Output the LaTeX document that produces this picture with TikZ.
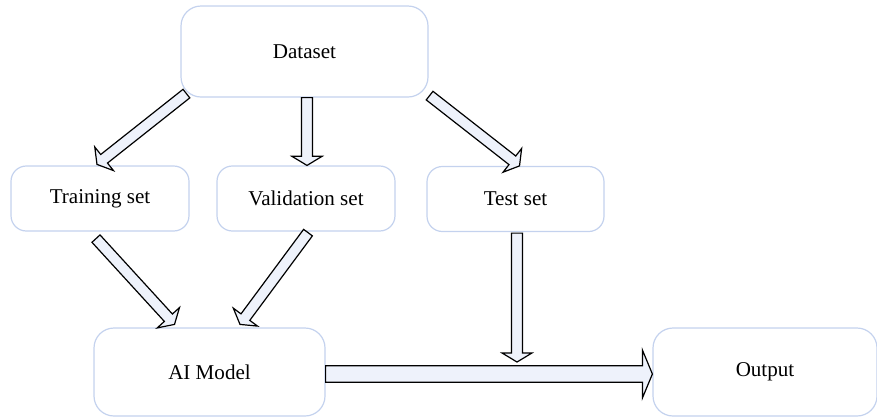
\documentclass[tikz,border=0pt]{standalone}
\usepackage{fontspec}
\setmainfont{Liberation Serif}
\usetikzlibrary{calc}

\definecolor{boxline}{RGB}{196,210,238}
\definecolor{arrowfill}{RGB}{238,242,251}

\tikzset{every picture/.style={line width=0.75pt}}
\tikzset{
  stagebox/.style={draw=boxline, fill=white, line width=0.9, inner sep=0pt, align=center,
    font=\fontsize{15.8}{18}\selectfont},
  arrowbody/.style={draw=black, fill=arrowfill, line width=0.9, line join=miter}
}

% block arrow: tail, tip, half shaft, half head, head length
\newcommand{\fatarrow}[5]{%
  \coordinate (hb) at ($(#2)!#5!(#1)$);
  \draw [arrowbody] ($(#1)!#3!90:(#2)$) -- ($(hb)!#3!90:(#2)$) -- ($(hb)!#4!90:(#2)$) -- (#2)
    -- ($(hb)!#4!-90:(#2)$) -- ($(hb)!#3!-90:(#2)$) -- ($(#1)!#3!-90:(#2)$) -- cycle ;
}

\begin{document}
\begin{tikzpicture}[x=0.75pt,y=0.75pt,yscale=-1,xscale=1]
\useasboundingbox (0,0) rectangle (877,419);

%Rounded Rect [data]
\node [stagebox, minimum width=185.25pt, minimum height=68.25pt, rounded corners=15pt] (data) at (304.5,51.5) {Dataset};
%Rounded Rect [train]
\node [stagebox, minimum width=133.5pt, minimum height=48.75pt, rounded corners=11.5pt] (train) at (100,198.5) {Training set};
%Rounded Rect [valid]
\node [stagebox, minimum width=133.5pt, minimum height=48.75pt, rounded corners=11.5pt] (valid) at (306,198.5) {Validation set};
%Rounded Rect [test]
\node [stagebox, minimum width=132.75pt, minimum height=48.75pt, rounded corners=11.5pt] (test) at (515.5,199) {Test set};
%Rounded Rect [ai]
\node [stagebox, minimum width=173.25pt, minimum height=66pt, rounded corners=15pt] (ai) at (209.5,372) {AI Model};
%Rounded Rect [out]
\node [stagebox, minimum width=168pt, minimum height=66pt, rounded corners=15pt] (out) at (765,372) {Output};

%Arrow end points
\coordinate (d1) at ($(data.south west)+(6,-4)$);
\coordinate (t1) at ($(train.north)+(-3,-1)$);
\coordinate (d2) at ($(data.south)+(2.5,0)$);
\coordinate (v1) at ($(valid.north)+(1,0)$);
\coordinate (d3) at ($(data.south east)+(1,-2)$);
\coordinate (s1) at ($(test.north)+(4,0)$);
\coordinate (t2) at ($(train.south)+(-4,7)$);
\coordinate (a1) at ($(ai.north)+(-35,-3)$);
\coordinate (v2) at ($(valid.south)+(2,1)$);
\coordinate (a2) at ($(ai.north)+(30.5,-3)$);
\coordinate (s2) at ($(test.south)+(1.5,1)$);
\coordinate (meet) at (517,362);
\coordinate (a3) at ($(ai.east)+(0,2)$);
\coordinate (o1) at ($(out.west)+(0,2)$);

%Block Arrows
\fatarrow{d1}{t1}{4.1pt}{11.3pt}{6.8pt}
\fatarrow{d2}{v1}{4.1pt}{11.3pt}{6.8pt}
\fatarrow{d3}{s1}{4.1pt}{11.3pt}{6.8pt}
\fatarrow{t2}{a1}{4.1pt}{11.3pt}{6.8pt}
\fatarrow{v2}{a2}{4.1pt}{11.3pt}{6.8pt}
\fatarrow{s2}{meet}{4.1pt}{11.3pt}{6.8pt}
\fatarrow{a3}{o1}{6.2pt}{18pt}{7.5pt}

\end{tikzpicture}
\end{document}
